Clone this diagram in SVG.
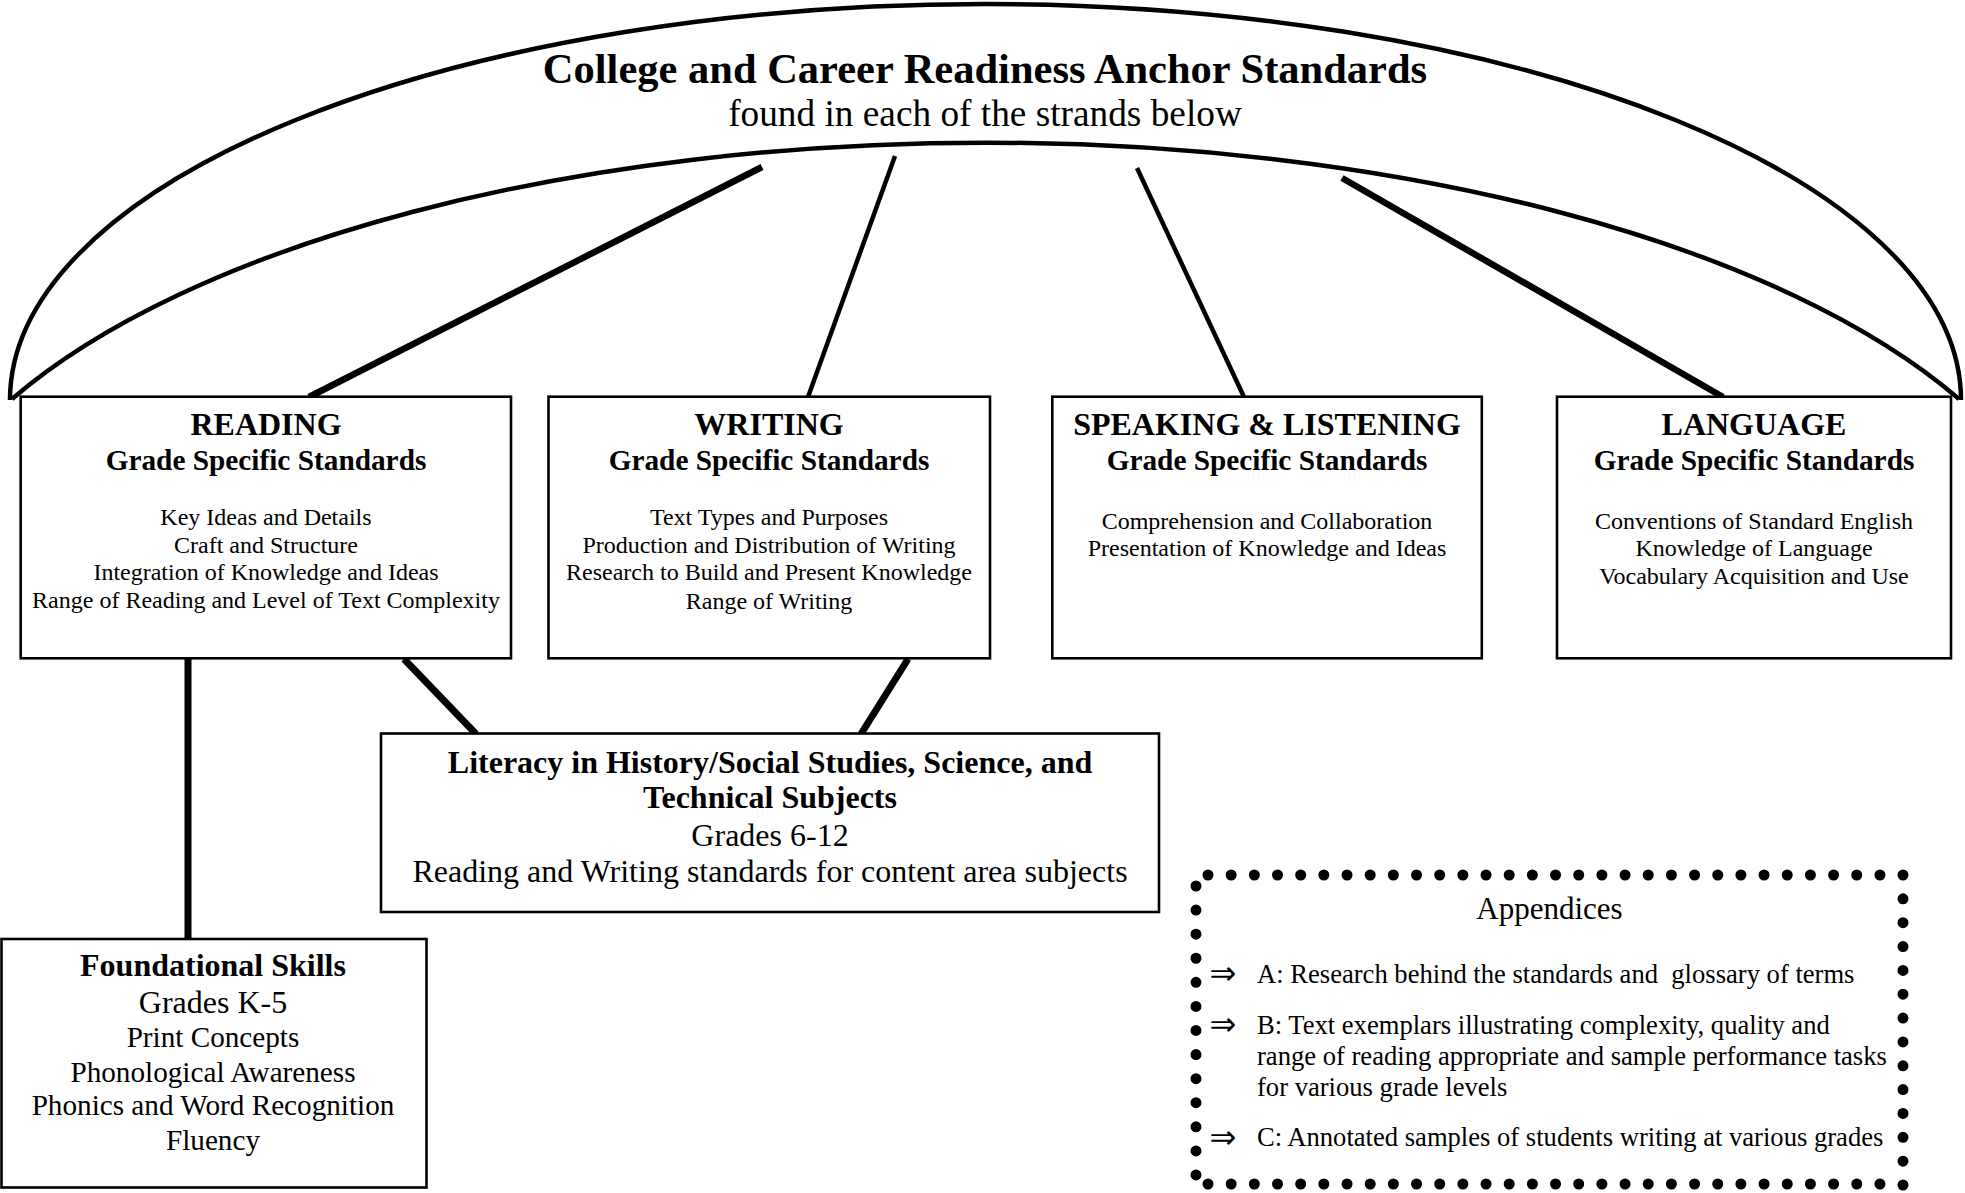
<svg xmlns="http://www.w3.org/2000/svg" width="1965" height="1193" viewBox="0 0 1965 1193">
<style>
text{font-family:"Liberation Serif","Times New Roman",serif;fill:#000;text-anchor:middle}
.b{font-weight:bold}
.h{font-size:32px;font-weight:bold}
.g{font-size:29.3px;font-weight:bold}
.i{font-size:24px}
.r32{font-size:32px}
.r29{font-size:29.2px}
.ap{font-size:26.6px;text-anchor:start;white-space:pre}
.ar{font-family:"DejaVu Sans","Liberation Serif",sans-serif;font-size:32px;text-anchor:middle}
.box{fill:#fff;stroke:#000;stroke-width:2.6}
.arc{fill:none;stroke:#000;stroke-width:4.5}
.con{stroke:#000;fill:none;stroke-linecap:butt}
.dot{stroke:#000;stroke-width:11;stroke-linecap:round;fill:none}
</style>

<g id="connectors">
<line class="con" x1="309" y1="397" x2="762" y2="167" stroke-width="6.5"/>
<line class="con" x1="808" y1="397" x2="895" y2="156" stroke-width="4.5"/>
<line class="con" x1="1244" y1="397" x2="1137" y2="168" stroke-width="4.5"/>
<line class="con" x1="1723" y1="397" x2="1342" y2="178" stroke-width="6.5"/>
<line class="con" x1="188" y1="658" x2="188" y2="940" stroke-width="7"/>
<line class="con" x1="404" y1="659" x2="476" y2="734" stroke-width="7"/>
<line class="con" x1="908" y1="659" x2="861" y2="734" stroke-width="7"/>
</g>

<g id="anchor">
<path class="arc" d="M 10 400 A 975.5 396 0 0 1 1961 400"/>
<path class="arc" d="M 12 399 A 1085 459 0 0 1 1959 399"/>
<text class="b" x="985" y="83" style="font-size:42.5px">College and Career Readiness Anchor Standards</text>
<text x="985" y="126" style="font-size:37.3px">found in each of the strands below</text>
</g>

<g id="reading">
<rect class="box" x="20.7" y="396.7" width="490.3" height="261.6"/>
<text class="h" x="266" y="434.5">READING</text>
<text class="g" x="266" y="469.5">Grade Specific Standards</text>
<text class="i" x="266" y="525">Key Ideas and Details</text>
<text class="i" x="266" y="552.5">Craft and Structure</text>
<text class="i" x="266" y="580">Integration of Knowledge and Ideas</text>
<text class="i" x="266" y="608">Range of Reading and Level of Text Complexity</text>
</g>

<g id="writing">
<rect class="box" x="548.5" y="396.7" width="441.5" height="261.6"/>
<text class="h" x="769" y="434.5">WRITING</text>
<text class="g" x="769" y="469.5">Grade Specific Standards</text>
<text class="i" x="769" y="525">Text Types and Purposes</text>
<text class="i" x="769" y="552.5">Production and Distribution of Writing</text>
<text class="i" x="769" y="580">Research to Build and Present Knowledge</text>
<text class="i" x="769" y="609">Range of Writing</text>
</g>

<g id="speaking-listening">
<rect class="box" x="1052.3" y="396.7" width="429.5" height="261.6"/>
<text class="h" x="1267" y="434.5">SPEAKING &amp; LISTENING</text>
<text class="g" x="1267" y="469.5">Grade Specific Standards</text>
<text class="i" x="1267" y="528.5">Comprehension and Collaboration</text>
<text class="i" x="1267" y="556">Presentation of Knowledge and Ideas</text>
</g>

<g id="language">
<rect class="box" x="1557" y="396.7" width="394" height="261.6"/>
<text class="h" x="1754" y="434.5">LANGUAGE</text>
<text class="g" x="1754" y="469.5">Grade Specific Standards</text>
<text class="i" x="1754" y="528.5">Conventions of Standard English</text>
<text class="i" x="1754" y="556">Knowledge of Language</text>
<text class="i" x="1754" y="583.5">Vocabulary Acquisition and Use</text>
</g>

<g id="literacy">
<rect class="box" x="381" y="733.5" width="778" height="178.5"/>
<text class="h" x="770" y="772.5">Literacy in History/Social Studies, Science, and</text>
<text class="h" x="770" y="808">Technical Subjects</text>
<text class="r32" x="770" y="846">Grades 6-12</text>
<text class="r32" x="770" y="882">Reading and Writing standards for content area subjects</text>
</g>

<g id="foundational">
<rect class="box" x="1.5" y="939" width="425" height="248.5"/>
<text class="h" x="213" y="976">Foundational Skills</text>
<text class="r32" x="213" y="1013">Grades K-5</text>
<text class="r29" x="213" y="1047">Print Concepts</text>
<text class="r29" x="213" y="1081.5">Phonological Awareness</text>
<text class="r29" x="213" y="1114.5">Phonics and Word Recognition</text>
<text class="r29" x="213" y="1149.5">Fluency</text>
</g>

<g id="appendices">
<path class="dot" d="M 1208 875 H 1903" stroke-dasharray="0 23.17"/>
<path class="dot" d="M 1903 875 V 1185" stroke-dasharray="0 23.846"/>
<path class="dot" d="M 1208 1184 H 1903" stroke-dasharray="0 23.17"/>
<path class="dot" d="M 1196 886 V 1175" stroke-dasharray="0 24.08"/>
<text x="1549.5" y="919" style="font-size:31px">Appendices</text>
<text class="ar" x="1223" y="984">⇒</text>
<text class="ap" x="1257" y="982.5">A: Research behind the standards and  glossary of terms</text>
<text class="ar" x="1223" y="1035">⇒</text>
<text class="ap" x="1257" y="1033.5">B: Text exemplars illustrating complexity, quality and</text>
<text class="ap" x="1257" y="1064.5">range of reading appropriate and sample performance tasks</text>
<text class="ap" x="1257" y="1096">for various grade levels</text>
<text class="ar" x="1223" y="1148">⇒</text>
<text class="ap" x="1257" y="1146">C: Annotated samples of students writing at various grades</text>
</g>
</svg>
